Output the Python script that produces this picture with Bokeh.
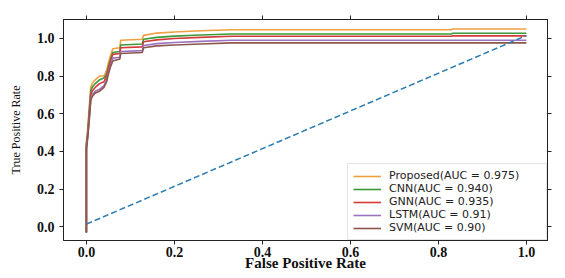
from bokeh.plotting import figure
from bokeh.models import (LinearAxis, Range1d, Legend, LegendItem, FixedTicker,
                          NumeralTickFormatter, CustomJSTickFormatter)
from bokeh.embed import file_html
from bokeh.resources import INLINE

# ---- data ----
fpr = [0.0, 0.0, 0.003, 0.006, 0.010, 0.013, 0.020, 0.030, 0.040, 0.046, 0.050, 0.055,
       0.060, 0.076, 0.078, 0.127, 0.130, 0.160, 0.200, 0.260, 0.330, 0.830, 0.832, 1.0]
tpr_proposed = [-0.03, 0.45, 0.52, 0.62, 0.74, 0.76, 0.78, 0.80, 0.80, 0.83, 0.87, 0.91,
                0.945, 0.95, 0.99, 0.995, 1.016, 1.028, 1.034, 1.040, 1.046, 1.046, 1.050, 1.050]
tpr_cnn = [-0.03, 0.44, 0.50, 0.60, 0.72, 0.74, 0.76, 0.78, 0.79, 0.81, 0.85, 0.89,
           0.925, 0.93, 0.965, 0.97, 0.995, 1.005, 1.012, 1.018, 1.023, 1.023, 1.027, 1.027]
tpr_gnn = [-0.03, 0.43, 0.49, 0.58, 0.70, 0.72, 0.74, 0.76, 0.77, 0.80, 0.84, 0.88,
           0.915, 0.92, 0.95, 0.955, 0.982, 0.992, 0.999, 1.005, 1.011, 1.011, 1.013, 1.013]
tpr_lstm = [-0.03, 0.42, 0.48, 0.56, 0.68, 0.70, 0.72, 0.73, 0.75, 0.78, 0.82, 0.86,
            0.895, 0.90, 0.93, 0.935, 0.962, 0.972, 0.978, 0.984, 0.990, 0.990, 0.990, 0.990]
tpr_svm = [-0.03, 0.41, 0.47, 0.55, 0.67, 0.69, 0.71, 0.72, 0.74, 0.77, 0.81, 0.85,
           0.88, 0.89, 0.92, 0.925, 0.950, 0.960, 0.965, 0.970, 0.976, 0.976, 0.976, 0.976]
diag_x = [0.0, 1.0]
diag_y = [0.015, 1.015]

labels = ["Proposed(AUC = 0.975)", "CNN(AUC = 0.940)", "GNN(AUC = 0.935)",
          "LSTM(AUC = 0.91)", "SVM(AUC = 0.90)"]
colors = ["#f0a040", "#3a9a3a", "#d33a3a", "#9c72c0", "#8c564b"]
series = [tpr_proposed, tpr_cnn, tpr_gnn, tpr_lstm, tpr_svm]
ticks = [0.0, 0.2, 0.4, 0.6, 0.8, 1.0]

p = figure(width=565, height=278, output_backend="svg", toolbar_location=None,
           x_range=Range1d(-0.052, 1.048), y_range=Range1d(-0.072, 1.10),
           min_border_left=63, min_border_right=18, min_border_top=19, min_border_bottom=38)
p.grid.visible = False
p.outline_line_color = "#222222"
p.outline_line_width = 1
p.background_fill_color = "white"
p.border_fill_color = "white"

items = []
for lab, col, ys in zip(labels, colors, series):
    r = p.line(fpr, ys, line_color=col, line_width=1.6)
    items.append(LegendItem(label=lab, renderers=[r]))
p.line(diag_x, diag_y, line_color="#2c7bb0", line_width=1.5, line_dash="6 3")

serif = "Liberation Serif"
for ax in [p.xaxis[0], p.yaxis[0]]:
    ax.ticker = FixedTicker(ticks=ticks)
    ax.formatter = NumeralTickFormatter(format="0.0")
    ax.major_label_text_font = serif
    ax.major_label_text_font_style = "bold"
    ax.major_label_text_font_size = "14px"
    ax.major_label_text_color = "#111111"
    ax.major_tick_out = 4
    ax.major_tick_in = 0
    ax.minor_tick_line_color = None
    ax.axis_line_color = "#222222"
    ax.major_tick_line_color = "#222222"
p.xaxis.major_label_standoff = 2
p.yaxis.major_label_standoff = 5

p.xaxis.axis_label = "False Positive Rate"
p.xaxis.axis_label_text_font = serif
p.xaxis.axis_label_text_font_style = "bold"
p.xaxis.axis_label_text_font_size = "15px"
p.xaxis.axis_label_standoff = -5
p.yaxis.axis_label = "True Positive Rate"
p.yaxis.axis_label_text_font = serif
p.yaxis.axis_label_text_font_style = "normal"
p.yaxis.axis_label_text_font_size = "12px"
p.yaxis.axis_label_standoff = 11
p.xaxis.axis_label_text_color = "#111111"
p.yaxis.axis_label_text_color = "#111111"

for loc in ["above", "right"]:
    ax = LinearAxis(ticker=FixedTicker(ticks=ticks),
                    formatter=CustomJSTickFormatter(code="return ''"),
                    major_tick_out=4, major_tick_in=0, minor_tick_line_color=None,
                    axis_line_color="#222222", major_tick_line_color="#222222",
                    major_label_standoff=0)
    p.add_layout(ax, loc)

legend = Legend(items=items, location="bottom_right",
                label_text_font="DejaVu Sans", label_text_font_size="11px",
                label_text_color="#222222",
                glyph_width=28, glyph_height=10, label_height=10, label_width=152,
                spacing=0, padding=5, margin=0, label_standoff=8,
                border_line_color="#cccccc", border_line_width=1,
                background_fill_alpha=0.9)
p.add_layout(legend, "center")

open("out.html", "w").write(file_html(p, INLINE))
